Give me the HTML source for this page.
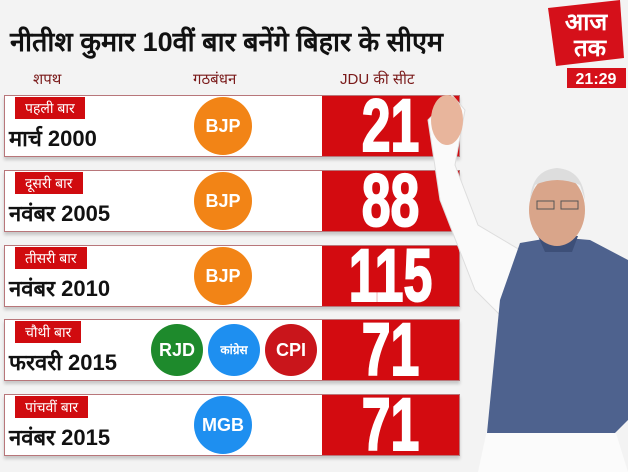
<!DOCTYPE html>
<html><head><meta charset="utf-8"><style>
body{margin:0;width:628px;height:472px;overflow:hidden;background:#f3f3f3;font-family:"Liberation Sans","Noto Sans CJK SC",sans-serif;position:relative}
.a{position:absolute}
.title{left:10px;top:22px;font-size:27px;font-weight:bold;color:#111;white-space:nowrap;font-family:"Liberation Sans","Noto Sans CJK SC","WenQuanYi Zen Hei",sans-serif}
.hdr{top:69px;font-size:15px;color:#7a1a1a}
.row{left:4px;width:454px;height:60px;background:#fff;border:1px solid #b8767a;box-shadow:0 3px 3px rgba(0,0,0,.18)}
.tag{left:10px;top:1px;background:#d00b0f;color:#fff;font-size:14px;padding:1px 10px;line-height:20px}
.date{left:4px;top:27px;font-size:22px;font-weight:bold;color:#111}
.red{left:317px;top:0;width:137px;height:60px;background:#d30b10}
.num{left:0;width:137px;top:-7px;text-align:center;font-size:74px;font-weight:bold;color:#fff;transform:scaleX(.7);line-height:74px;-webkit-text-stroke:2px #fff}
.c{border-radius:50%;color:#fff;font-weight:bold;text-align:center}
</style></head><body>
<div class="a title">नीतीश कुमार 10वीं बार बनेंगे बिहार के सीएम</div>
<div class="a hdr" style="left:33px">शपथ</div>
<div class="a hdr" style="left:193px">गठबंधन</div>
<div class="a hdr" style="left:340px;color:#7a1a1a">JDU की सीट</div>
<div id="rows"></div>

<svg class="a" style="left:0;top:0" width="628" height="472">
<path d="M428 120 L452 95 L465 110 L455 165 L478 225 L520 250 L505 320 L475 290 L440 200 Z" fill="#fafafa" stroke="#ddd"/>
<ellipse cx="447" cy="120" rx="16" ry="25" fill="#e8b59c"/>
<path d="M478 472 L487 430 L615 430 L628 472 Z" fill="#fbfbfb"/>
<path d="M520 243 L555 237 L590 240 L628 260 L628 420 L615 433 L487 433 L500 300 Z" fill="#4e628e"/>
<path d="M538 236 L578 236 L572 252 L545 252 Z" fill="#3d4f78"/>
<ellipse cx="557" cy="210" rx="28" ry="36" fill="#d9a58a"/>
<path d="M530 200 Q532 170 557 168 Q583 170 585 200 L580 185 Q557 175 535 185 Z" fill="#ddd"/>
<rect x="537" y="201" width="17" height="8" fill="none" stroke="#555"/><rect x="561" y="201" width="17" height="8" fill="none" stroke="#555"/>
</svg>

<svg class="a" style="left:528px;top:0" width="100" height="92">
<path d="M20 8 L92 0 L96 58 L28 66 Z" fill="#d5101a"/>
<text x="58" y="30" font-size="24" font-weight="bold" fill="#fff" text-anchor="middle" font-family="Noto Sans CJK SC,sans-serif">आज</text>
<text x="62" y="56" font-size="24" font-weight="bold" fill="#fff" text-anchor="middle" font-family="Noto Sans CJK SC,sans-serif">तक</text>
<rect x="39" y="68" width="59" height="20" fill="#d5101a"/>
<text x="68" y="84" font-size="16" font-weight="bold" fill="#fff" text-anchor="middle" font-family="Liberation Sans,sans-serif">21:29</text>
</svg>

<script>
const tags=["पहली बार","दूसरी बार","तीसरी बार","चौथी बार","पांचवीं बार"];
const dates=["मार्च 2000","नवंबर 2005","नवंबर 2010","फरवरी 2015","नवंबर 2015"];
const seats=[21,88,115,71,71];
const allies=[["BJP"],["BJP"],["BJP"],["RJD","कांग्रेस","CPI"],["MGB"]];
const colors={"BJP":"#f28416","RJD":"#1e8a2c","कांग्रेस":"#1e8ff0","CPI":"#c9151b","MGB":"#1e8ff0"};
const root=document.getElementById('rows');
seats.forEach((v,i)=>{
 const r=document.createElement('div');r.className='a row';r.style.top=(95+i*74.8)+'px';
 
 
 r.innerHTML='<div class="a tag">'+tags[i]+'</div><div class="a date">'+dates[i]+'</div>';
 const n=allies[i].length, rad=n>1?26:29;
 allies[i].forEach((p,j)=>{
  const c=document.createElement('div');c.className='a c';
  const cx=n>1?172+j*57:218;
  c.style.cssText+=`left:${cx-rad}px;top:${30-rad}px;width:${rad*2}px;height:${rad*2}px;line-height:${rad*2}px;background:${colors[p]};font-size:${p.length>4?12:18}px`;
  c.textContent=p;
  
  
  r.appendChild(c);
 });
 const red=document.createElement('div');red.className='a red';
 
 
 red.innerHTML='<div class="a num">'+v+'</div>';
 r.appendChild(red);
 root.appendChild(r);
});
</script>
</body></html>
